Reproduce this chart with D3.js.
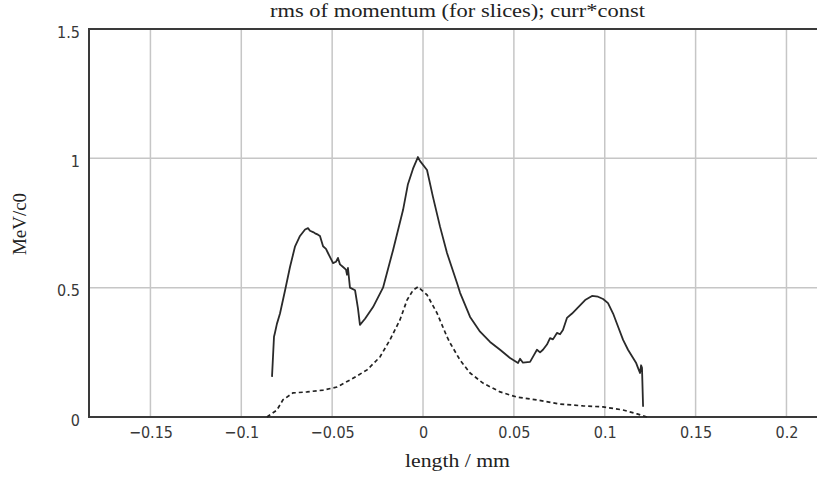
<!DOCTYPE html>
<html>
<head>
<meta charset="utf-8">
<script src="https://cdn.jsdelivr.net/npm/d3@7"></script>
<style>
	html, body { margin: 0; padding: 0; background: #fff; }
	svg { display: block; }
	.tick text { font-family: "DejaVu Sans Condensed", "DejaVu Sans", sans-serif; font-size: 16px; fill: #383838; }
	.lbl { font-family: "Liberation Serif", "Times New Roman", serif; font-size: 19px; fill: #222; }
</style>
</head>
<body>
<svg id="chart" width="817" height="478"></svg>
<script>
// rms of momentum per slice (solid), x in mm
var rmsX = [-0.0831,-0.0820,-0.0815,-0.0804,-0.0787,-0.0759,-0.0732,-0.0704,-0.0677,-0.0649,-0.0633,-0.0622,
	-0.0605,-0.0594,-0.0578,-0.0567,-0.0550,-0.0534,-0.0523,-0.0506,-0.0495,-0.0479,-0.0468,-0.0457,-0.0440,
	-0.0424,-0.0418,-0.0413,-0.0402,-0.0374,-0.0358,-0.0347,-0.0319,-0.0275,-0.0220,-0.0165,-0.0110,-0.0083,
	-0.0055,-0.0028,-0.0017,0.0022,0.0055,0.0094,0.0132,0.0187,0.0204,0.0259,0.0314,0.0369,0.0424,0.0479,
	0.0523,0.0534,0.0550,0.0589,0.0611,0.0627,0.0644,0.0660,0.0682,0.0699,0.0715,0.0737,0.0754,0.0770,0.0792,
	0.0820,0.0848,0.0892,0.0930,0.0963,0.0991,0.1018,0.1046,0.1073,0.1101,0.1128,0.1156,0.1172,0.1183,0.1194,
	0.1200,0.1205,0.1211];
var rmsY = [0.155,0.31,0.325,0.36,0.40,0.49,0.58,0.66,0.70,0.725,0.73,0.72,
	0.715,0.71,0.705,0.70,0.66,0.65,0.634,0.61,0.595,0.60,0.615,0.59,0.58,
	0.57,0.55,0.576,0.50,0.49,0.42,0.356,0.38,0.425,0.50,0.645,0.80,0.90,
	0.96,1.005,0.99,0.955,0.85,0.735,0.634,0.518,0.48,0.387,0.33,0.29,0.26,0.228,
	0.209,0.225,0.21,0.213,0.24,0.26,0.25,0.26,0.28,0.305,0.30,0.325,0.32,0.336,0.383,
	0.40,0.42,0.452,0.468,0.465,0.456,0.44,0.40,0.35,0.298,0.26,0.228,0.21,0.19,0.17,
	0.20,0.19,0.04];

// current * const (dashed)
var currX = [-0.0859,-0.0804,-0.0771,-0.0716,-0.0638,-0.0550,-0.0473,-0.0402,-0.0308,-0.0237,-0.0182,
	-0.0127,-0.0088,-0.0055,-0.0028,0.0022,0.0077,0.0132,0.0149,0.0204,0.0259,0.0330,0.0424,0.0517,
	0.0627,0.0754,0.0881,0.0991,0.1101,0.1178,0.1233];
var currY = [0,0.027,0.066,0.093,0.097,0.104,0.116,0.143,0.182,0.232,0.298,
	0.375,0.452,0.49,0.503,0.472,0.402,0.31,0.286,0.22,0.17,0.131,0.097,0.077,
	0.066,0.05,0.043,0.039,0.027,0.012,0];

var xTicks = [-0.15,-0.1,-0.05,0,0.05,0.1,0.15,0.2];
var yTicks = [0,0.5,1,1.5];
var titleText = "rms of momentum (for slices); curr*const";
var xLabel = "length / mm";
var yLabel = "MeV/c0";

(function(){
	var svg = d3.select("#chart");
	var pLeft = 89, pTop = 29, pBottom = 417, pRight = 817;

	var x = d3.scaleLinear().domain([-0.1838, 0.2168]).range([pLeft, pRight]);
	var y = d3.scaleLinear().domain([0, 1.5]).range([pBottom, pTop]);

	// gridlines
	svg.append("g").selectAll("line").data(xTicks).enter().append("line")
		.attr("x1", function(d){ return x(d); }).attr("x2", function(d){ return x(d); })
		.attr("y1", pTop).attr("y2", pBottom)
		.attr("stroke", "#c6c6c6").attr("stroke-width", 1.5);
	svg.append("g").selectAll("line").data(yTicks.slice(1, 3)).enter().append("line")
		.attr("x1", pLeft).attr("x2", pRight)
		.attr("y1", function(d){ return y(d); }).attr("y2", function(d){ return y(d); })
		.attr("stroke", "#c6c6c6").attr("stroke-width", 1.5);

	// axes (labels only, frame drawn separately)
	var xAxis = svg.append("g").attr("transform", "translate(0," + pBottom + ")")
		.call(d3.axisBottom(x).tickValues(xTicks).tickSize(0).tickPadding(10).tickFormat(d3.format("")));
	xAxis.select(".domain").remove();
	xAxis.selectAll("text").attr("dy", "0.71em");

	var yAxis = svg.append("g").attr("transform", "translate(" + pLeft + ",0)")
		.call(d3.axisLeft(y).tickValues(yTicks).tickSize(0).tickPadding(9).tickFormat(d3.format("")));
	yAxis.select(".domain").remove();
	yAxis.selectAll("text").attr("dy", "0.52em");

	// frame
	svg.append("path")
		.attr("d", "M" + pRight + "," + pTop + "H" + pLeft + "V" + pBottom + "H" + pRight)
		.attr("fill", "none").attr("stroke", "#3a3a3a").attr("stroke-width", 2);

	// curves
	var line = d3.line().x(function(d){ return x(d[0]); }).y(function(d){ return y(d[1]); });
	svg.append("path").datum(d3.zip(currX, currY))
		.attr("d", line).attr("fill", "none")
		.attr("stroke", "#222").attr("stroke-width", 1.7).attr("stroke-dasharray", "4,3");
	svg.append("path").datum(d3.zip(rmsX, rmsY))
		.attr("d", line).attr("fill", "none")
		.attr("stroke", "#2a2a2a").attr("stroke-width", 1.8)
		.attr("stroke-linejoin", "round");

	// texts
	svg.append("text").attr("class", "lbl").attr("x", 457.5).attr("y", 17)
		.attr("text-anchor", "middle").attr("textLength", 375).attr("lengthAdjust", "spacingAndGlyphs")
		.text(titleText);
	svg.append("text").attr("class", "lbl").attr("x", 457.5).attr("y", 467)
		.attr("text-anchor", "middle").attr("textLength", 105).attr("lengthAdjust", "spacingAndGlyphs")
		.text(xLabel);
	svg.append("text").attr("class", "lbl")
		.attr("transform", "translate(26,224) rotate(-90)")
		.attr("text-anchor", "middle").attr("textLength", 62).attr("lengthAdjust", "spacingAndGlyphs")
		.text(yLabel);
})();
</script>
</body>
</html>
